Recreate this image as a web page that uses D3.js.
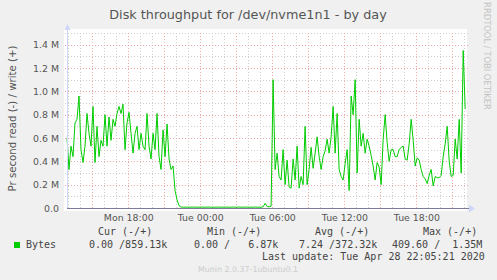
<!DOCTYPE html>
<html>
<head>
<meta charset="utf-8">
<script src="https://cdnjs.cloudflare.com/ajax/libs/d3/7.8.5/d3.min.js"></script>
<style>
  html, body { margin: 0; padding: 0; background: #f0f0f0; }
  svg { display: block; }
  text { font-family: "DejaVu Sans", sans-serif; }
  .mono { font-family: "DejaVu Sans Mono", monospace; font-size: 10px; fill: #444; white-space: pre; }
</style>
</head>
<body>
<svg id="chart" width="497" height="280"></svg>
<script>
//----- data -----

var title = "Disk throughput for /dev/nvme1n1 - by day";
var yLabel = "Pr second read (-) / write (+)";

// one sample every 10 minutes, starting Mon Apr 27 12:54
var startTime = new Date(2020, 3, 27, 12, 54);
var endTime = new Date(2020, 3, 28, 22, 13);
var stepMinutes = 10;

// write bytes per second, in millions
var writeBytes = [
  0.60,0.33,0.53,0.44,0.73,0.76,0.96,0.50,0.39,0.53,0.81,0.64,0.53,0.87,0.39,0.70,0.44,0.58,0.53,0.80,
  0.53,0.78,0.58,0.76,0.70,0.81,0.87,0.81,0.89,0.50,0.73,0.82,0.64,0.47,0.64,0.70,0.50,0.64,0.53,0.50,
  0.81,0.53,0.42,0.64,0.50,0.81,0.44,0.33,0.67,0.44,0.72,0.42,0.33,0.36,0.15,0.07,0.02,
  0.008,0.007,0.007,0.008,0.007,0.007,0.008,0.007,0.007,0.007,0.008,0.007,0.007,0.007,0.008,0.007,
  0.007,0.007,0.008,0.007,0.007,0.007,0.008,0.007,0.007,0.007,0.008,0.007,0.007,0.008,0.007,0.007,
  0.007,0.008,0.007,0.007,0.007,0.008,0.007,0.007,0.007,
  0.010,0.040,0.012,0.010,0.015,1.10,
  0.33,0.47,0.27,0.24,0.50,0.20,0.41,0.18,0.17,0.42,0.24,0.53,0.17,0.27,0.20,0.70,0.20,0.33,0.52,0.34,
  0.47,0.61,0.44,0.33,0.44,0.49,0.59,0.47,0.61,0.87,0.47,0.81,0.33,0.27,0.24,0.38,0.50,0.15,0.96,0.80,
  1.10,0.30,0.76,0.53,0.64,0.47,0.59,0.53,
  0.45,0.36,0.24,0.39,0.35,0.20,0.59,0.80,0.56,0.40,0.50,0.50,0.44,0.44,0.50,0.52,0.53,0.42,0.41,0.55,
  0.76,0.58,0.36,0.43,0.41,0.33,0.27,0.25,0.21,0.28,0.33,0.19,0.27,0.26,0.26,0.28,0.44,0.55,0.70,0.40,
  0.27,0.28,0.59,0.42,0.76,0.30,1.35,0.85
];

var yTicks = [0, 0.2, 0.4, 0.6, 0.8, 1.0, 1.2, 1.4];
var yMax = 1.5;

var legendName = "Bytes";
var legendHeaders = ["Cur (-/+)", "Min (-/+)", "Avg (-/+)", "Max (-/+)"];
var legendValues = ["0.00 /859.13k", "0.00 /   6.87k", "7.24 /372.32k", "409.60 /  1.35M"];
var lastUpdate = "Last update: Tue Apr 28 22:05:21 2020";
var footer = "Munin 2.0.37-1ubuntu0.1";
var sideText = "RRDTOOL / TOBI OETIKER";

//----- chart -----

var svg = d3.select("#chart");
var plotLeft = 67, plotRight = 467, plotTop = 33, plotBottom = 208;

var x = d3.scaleTime().domain([startTime, endTime]).range([plotLeft, plotRight]);
var y = d3.scaleLinear().domain([0, yMax]).range([plotBottom, plotTop]);

var series = writeBytes.map(function (v, i) {
  return { t: d3.timeMinute.offset(startTime, i * stepMinutes), v: v };
});

// plot canvas
svg.append("rect")
  .attr("x", plotLeft - 3).attr("y", plotTop - 4)
  .attr("width", plotRight - plotLeft + 3).attr("height", plotBottom - plotTop + 7)
  .attr("fill", "#ffffff");

var grid = svg.append("g").attr("shape-rendering", "crispEdges");

function hpos(d) { return Math.round(y(d)) + 0.5; }
function vpos(d) { return Math.round(x(d)) + 0.5; }

// minor grid
grid.selectAll(".hminor").data(d3.range(0.1, yMax + 0.01, 0.2))
  .enter().append("line")
  .attr("x1", plotLeft - 2).attr("x2", plotRight + 2)
  .attr("y1", hpos).attr("y2", hpos)
  .attr("stroke", "#cfcfcf").attr("stroke-dasharray", "1,2");

grid.selectAll(".vminor").data(x.ticks(d3.timeHour.every(1)).filter(function (d) { return d.getHours() % 3 != 0; }))
  .enter().append("line")
  .attr("y1", plotTop).attr("y2", plotBottom + 2)
  .attr("x1", vpos).attr("x2", vpos)
  .attr("stroke", "#cfcfcf").attr("stroke-dasharray", "1,2");

// major grid
grid.selectAll(".hmajor").data(yTicks.slice(1))
  .enter().append("line")
  .attr("x1", plotLeft - 2).attr("x2", plotRight + 2)
  .attr("y1", hpos).attr("y2", hpos)
  .attr("stroke", "#f0a8a8").attr("stroke-dasharray", "1,2");

grid.selectAll(".vmajor").data(x.ticks(d3.timeHour.every(3)))
  .enter().append("line")
  .attr("y1", plotTop).attr("y2", plotBottom + 2)
  .attr("x1", vpos).attr("x2", vpos)
  .attr("stroke", "#f0a8a8").attr("stroke-dasharray", "1,2");

// data line
var line = d3.line()
  .x(function (d) { return x(d.t); })
  .y(function (d) { return y(d.v); });

svg.append("path")
  .datum(series)
  .attr("d", line)
  .attr("fill", "none")
  .attr("stroke", "#00cc00")
  .attr("stroke-width", 1)
  .attr("stroke-linejoin", "round");

// axes lines + arrows
svg.append("line")
  .attr("x1", plotLeft + 0.5).attr("x2", plotLeft + 0.5)
  .attr("y1", plotBottom).attr("y2", plotTop - 5)
  .attr("stroke", "#cfd6f8");
svg.append("path")
  .attr("d", "M" + (plotLeft - 2.5) + "," + (plotTop - 3) + "L" + (plotLeft + 3.5) + "," + (plotTop - 3) + "L" + (plotLeft + 0.5) + "," + (plotTop - 9) + "Z")
  .attr("fill", "#cfd6f8");
svg.append("line")
  .attr("x1", plotLeft).attr("x2", plotRight + 2)
  .attr("y1", hpos(0)).attr("y2", hpos(0))
  .attr("stroke", "#7c7c9a");
svg.append("path")
  .attr("d", "M" + (plotRight + 2) + "," + (hpos(0) - 4) + "L" + (plotRight + 2) + "," + (hpos(0) + 4) + "L" + (plotRight + 8) + "," + hpos(0) + "Z")
  .attr("fill", "#cfd6f8");

// y tick labels
var yAxis = d3.axisLeft(y)
  .tickValues(yTicks)
  .tickSize(0)
  .tickPadding(8)
  .tickFormat(function (d) { return d == 0 ? "0.0" : d3.format(".1f")(d) + " M"; });

var gy = svg.append("g").attr("transform", "translate(" + plotLeft + ",0)").call(yAxis);
gy.select(".domain").remove();
gy.selectAll("text").attr("font-size", 9.4).attr("fill", "#555").attr("font-family", "DejaVu Sans");

// x tick labels
var xAxis = d3.axisBottom(x)
  .ticks(d3.timeHour.every(6))
  .tickSize(0)
  .tickPadding(6)
  .tickFormat(d3.timeFormat("%a %H:%M"));

var gx = svg.append("g").attr("transform", "translate(0," + plotBottom + ")").call(xAxis);
gx.select(".domain").remove();
gx.selectAll("text").attr("font-size", 9.4).attr("fill", "#555").attr("font-family", "DejaVu Sans");

// title
svg.append("text")
  .attr("x", 248).attr("y", 19)
  .attr("text-anchor", "middle")
  .attr("font-size", 12.8)
  .attr("fill", "#555")
  .text(title);

// y label
svg.append("text")
  .attr("transform", "translate(15.5,118.5) rotate(-90)")
  .attr("text-anchor", "middle")
  .attr("font-size", 10.2)
  .attr("fill", "#555")
  .text(yLabel);

// side text
svg.append("text")
  .attr("transform", "translate(484,56) rotate(90)")
  .attr("text-anchor", "middle")
  .attr("font-size", 8.4)
  .attr("fill", "#c4c4c4")
  .text(sideText);

// legend
var headerX = [98, 207, 315, 423];
var valueX = [89, 194, 299, 392];

svg.selectAll(".lh").data(legendHeaders).enter().append("text")
  .attr("class", "mono")
  .attr("x", function (d, i) { return headerX[i]; })
  .attr("y", 235)
  .text(function (d) { return d; });

svg.append("rect")
  .attr("x", 14).attr("y", 242).attr("width", 6).attr("height", 6)
  .attr("fill", "#00cc00");

svg.append("text")
  .attr("class", "mono")
  .attr("x", 26).attr("y", 248)
  .text(legendName);

svg.selectAll(".lv").data(legendValues).enter().append("text")
  .attr("class", "mono")
  .attr("x", function (d, i) { return valueX[i]; })
  .attr("y", 248)
  .text(function (d) { return d; });

svg.append("text")
  .attr("class", "mono")
  .attr("x", 262).attr("y", 260)
  .text(lastUpdate);

svg.append("text")
  .attr("x", 248).attr("y", 272)
  .attr("text-anchor", "middle")
  .attr("font-size", 7.9)
  .attr("fill", "#cccccc")
  .text(footer);
</script>
</body>
</html>
